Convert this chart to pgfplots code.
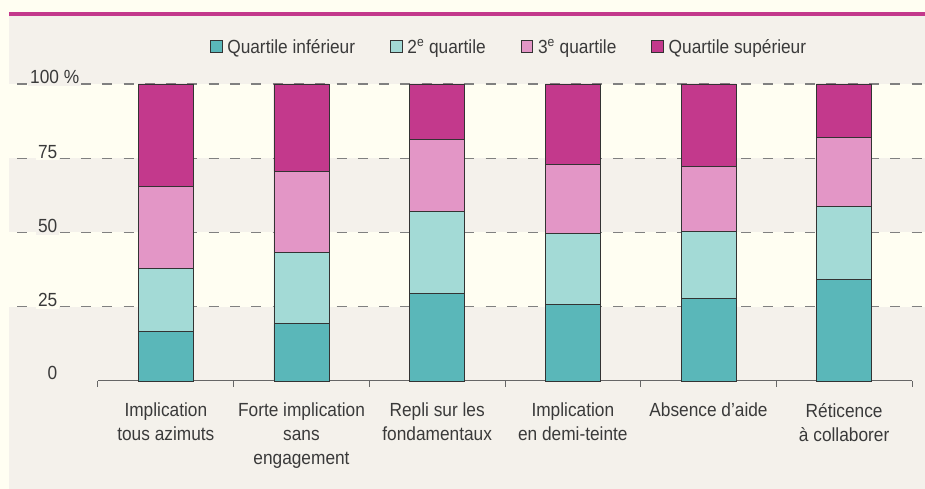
\documentclass[border=0pt]{standalone}
\usepackage{pgfplots}
\pgfplotsset{compat=1.18}
\usepackage{fontspec}
\setmainfont{Liberation Sans}[FakeStretch=0.91]
\definecolor{qone}{HTML}{5AB7B9}
\definecolor{qtwo}{HTML}{A3DAD6}
\definecolor{qthree}{HTML}{E396C6}
\definecolor{qfour}{HTML}{C3398C}
\definecolor{panel}{HTML}{F4F1EB}
\definecolor{cream}{HTML}{FFFEF2}
\definecolor{txt}{HTML}{3A3A3A}
\definecolor{dashc}{HTML}{808080}
\definecolor{axisc}{HTML}{666666}
\newcommand\lbl{\fontsize{19bp}{24bp}\selectfont}
\begin{document}
\begin{tikzpicture}
\useasboundingbox (0bp,0bp) rectangle (925bp,489bp);
\fill[cream] (0bp,0bp) rectangle (925bp,489bp);
\fill[panel] (9bp,0bp) rectangle (925bp,472.5bp);
\fill[qfour] (9bp,472.5bp) rectangle (925bp,477bp);
\fill[cream] (9bp,330.75bp) rectangle (925bp,405bp);
\fill[cream] (9bp,182.25bp) rectangle (925bp,256.5bp);
\foreach \y in {405,330.75,256.5,182.25}
  \draw[dashc, line width=1.4bp, dash pattern=on 10bp off 11.3bp] (17bp,\y bp) -- (925bp,\y bp);
\node[anchor=base west, fill=panel, inner xsep=2bp, inner ysep=2bp, text=txt, font=\lbl] at (28bp,405bp) {100 \%};
\node[anchor=base east, fill=cream, inner xsep=2bp, inner ysep=2bp, text=txt, font=\lbl] at (59.5bp,330.75bp) {75};
\node[anchor=base east, fill=panel, inner xsep=2bp, inner ysep=2bp, text=txt, font=\lbl] at (59.5bp,256.5bp) {50};
\node[anchor=base east, fill=cream, inner xsep=2bp, inner ysep=2bp, text=txt, font=\lbl] at (59.5bp,182.25bp) {25};
\node[anchor=base east, fill=panel, inner xsep=2bp, inner ysep=2bp, text=txt, font=\lbl] at (59.5bp,109bp) {0};
\begin{axis}[
  at={(165.83bp,108bp)}, anchor=origin, scale only axis,
  width=814bp, height=297bp,
  xmin=-0.5, xmax=5.5, ymin=0, ymax=100,
  ybar stacked, bar width=55bp,
  axis x line*=bottom, axis y line=none,
  x axis line style={draw=axisc, line width=1bp, -},
  xtick={0,...,5}, major tick length=0pt,
  minor xtick={-0.5,0.5,...,5.5}, minor tick length=6bp, tick align=outside,
  every tick/.style={axisc, line width=1bp},
  xticklabels={{Implication\\tous azimuts},{Forte implication\\sans\\engagement},{Repli sur les\\fondamentaux},{Implication\\en demi-teinte},{Absence d'aide},{Réticence\\à collaborer}},
  xticklabel style={align=center, anchor=north, inner sep=0pt, yshift=-22bp, font=\lbl, text=txt},
  ytick=\empty,
  clip=false,
  legend columns=4,
  legend style={at={(0.505,1.1246)}, anchor=center, draw=none, fill=none, font=\lbl, text=txt,
    /tikz/every odd column/.append style={column sep=3bp},
    /tikz/every even column/.append style={column sep=33bp}},
  legend image code/.code={\draw[#1, draw=black!80, line width=0.8bp] (0bp,-5bp) rectangle (11.5bp,6.5bp);},
]
\addplot[fill=qone, draw=black!80, line width=0.8bp] coordinates {(0,16.8) (1,19.3) (2,29.5) (3,25.8) (4,27.7) (5,34.2)};
\addplot[fill=qtwo, draw=black!80, line width=0.8bp] coordinates {(0,21.1) (1,23.9) (2,27.7) (3,24.0) (4,22.6) (5,24.7)};
\addplot[fill=qthree, draw=black!80, line width=0.8bp] coordinates {(0,27.5) (1,27.5) (2,24.2) (3,23.2) (4,21.8) (5,23.0)};
\addplot[fill=qfour, draw=black!80, line width=0.8bp] coordinates {(0,34.6) (1,29.3) (2,18.6) (3,27.0) (4,27.9) (5,18.1)};
\legend{Quartile inférieur, 2\textsuperscript{e} quartile, 3\textsuperscript{e} quartile, Quartile supérieur}
\end{axis}
\end{tikzpicture}
\end{document}
